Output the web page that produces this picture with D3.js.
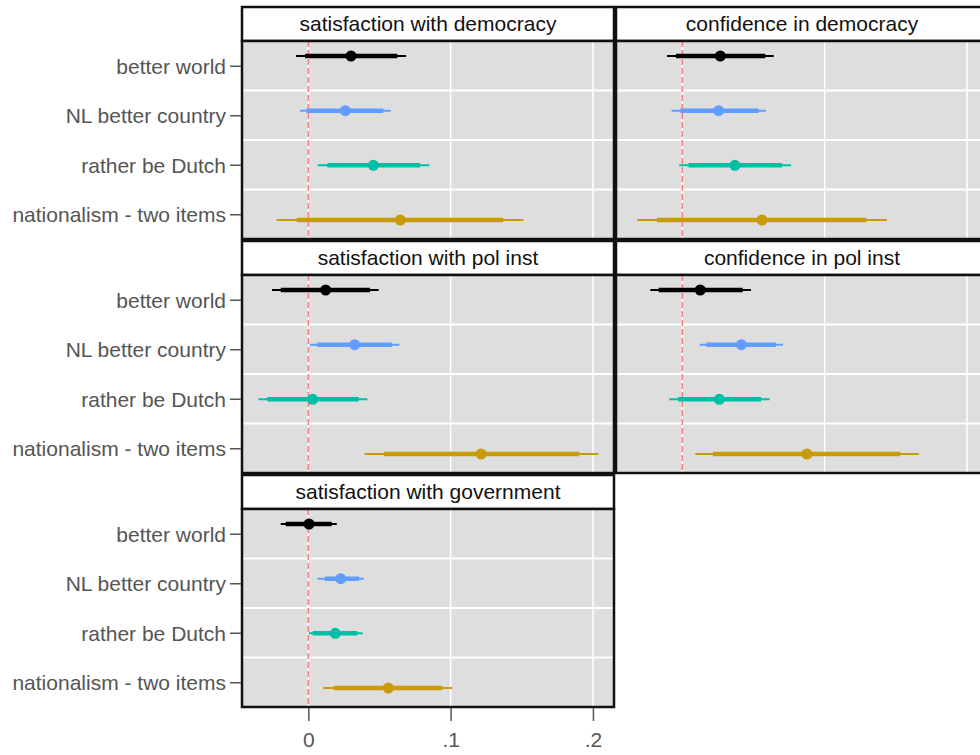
<!DOCTYPE html>
<html>
<head>
<meta charset="utf-8">
<script src="https://cdn.jsdelivr.net/npm/d3@7"></script>
<style>
  body { margin: 0; background: #fff; }
  svg { display: block; font-family: "Liberation Sans", Arial, sans-serif; }
</style>
</head>
<body>
<div id="chart"></div>
<script>
// categories (y axis) and facet titles
const categories = ["better world", "NL better country", "rather be Dutch", "nationalism - two items"];
const panelTitles = ["satisfaction with democracy", "confidence in democracy",
                     "satisfaction with pol inst", "confidence in pol inst",
                     "satisfaction with government"];
const seriesColors = ["#000000", "#619CFF", "#00BFA6", "#C99A0A"];

// one row per panel, one value per category
const pointEst = [
  [0.030, 0.026, 0.0457, 0.0647],
  [0.0267, 0.0255, 0.037, 0.056],
  [0.0122, 0.0326, 0.0031, 0.1214],
  [0.0126, 0.0415, 0.026, 0.0876],
  [0.0005, 0.0228, 0.019, 0.0562]
];
const outerLo = [
  [-0.0086, -0.0058, 0.0066, -0.0222],
  [-0.0108, -0.0075, -0.0021, -0.0318],
  [-0.0255, 0.0012, -0.0351, 0.0396],
  [-0.0225, 0.0122, -0.0091, 0.0091],
  [-0.0194, 0.0066, 0.0003, 0.0105]
];
const innerLo = [
  [-0.0023, -0.0012, 0.0134, -0.0082],
  [-0.0044, -0.0014, 0.0044, -0.0178],
  [-0.0194, 0.0063, -0.0288, 0.0532],
  [-0.0166, 0.0169, -0.003, 0.0216],
  [-0.0159, 0.0117, 0.0031, 0.018]
];
const innerHi = [
  [0.0625, 0.0527, 0.0785, 0.137],
  [0.0583, 0.0536, 0.070, 0.1293],
  [0.0434, 0.0586, 0.0354, 0.1904],
  [0.0424, 0.0658, 0.0553, 0.1532],
  [0.0164, 0.0356, 0.0344, 0.094]
];
const outerHi = [
  [0.0687, 0.0579, 0.085, 0.151],
  [0.0642, 0.0588, 0.0764, 0.1438],
  [0.0495, 0.064, 0.0415, 0.2038],
  [0.0483, 0.0708, 0.0614, 0.1661],
  [0.020, 0.0389, 0.0382, 0.1012]
];
const xTicks = [0, 0.1, 0.2];
const xTickLabels = ["0", ".1", ".2"];

const W = 980, H = 755;
const colX0 = 242, colStep = 374, panelW = 372;
const rowY0 = 7, rowStep = 234, stripH = 34, bodyH = 198;

const svg = d3.select("#chart").append("svg")
  .attr("width", W).attr("height", H);

const x = d3.scaleLinear().domain([-0.0466, 0.2148]).range([0, panelW]);
const yBand = d3.scaleBand().domain(categories).range([0, bodyH]);
const yDot = d3.scalePoint().domain(categories).range([15, 179]);

panelTitles.forEach((title, p) => {
  const col = p % 2, row = Math.floor(p / 2);
  const px = colX0 + col * colStep;
  const py = rowY0 + row * rowStep;
  const g = svg.append("g").attr("transform", "translate(" + px + "," + py + ")");

  // strip
  g.append("rect")
    .attr("x", 0).attr("y", 0).attr("width", panelW).attr("height", stripH)
    .attr("fill", "#fff").attr("stroke", "#111").attr("stroke-width", 2.5);
  g.append("text")
    .attr("x", panelW / 2).attr("y", stripH / 2 + 1)
    .attr("text-anchor", "middle").attr("dominant-baseline", "middle")
    .attr("font-size", 21).attr("fill", "#111")
    .text(title);

  const body = g.append("g").attr("transform", "translate(0," + stripH + ")");
  body.append("rect")
    .attr("width", panelW).attr("height", bodyH).attr("fill", "#dedede");

  // horizontal grid between categories
  body.selectAll(".hgrid").data(categories.slice(1)).join("line")
    .attr("x1", 0).attr("x2", panelW)
    .attr("y1", d => yBand(d)).attr("y2", d => yBand(d))
    .attr("stroke", "#fff").attr("stroke-width", 2);
  // vertical grid
  body.selectAll(".vgrid").data(xTicks).join("line")
    .attr("x1", d => x(d)).attr("x2", d => x(d))
    .attr("y1", 0).attr("y2", bodyH)
    .attr("stroke", "#fff").attr("stroke-width", 1.5);
  // zero reference
  body.append("line")
    .attr("x1", x(0)).attr("x2", x(0)).attr("y1", 0).attr("y2", bodyH)
    .attr("stroke", "#F07C7C").attr("stroke-width", 1.5)
    .attr("stroke-dasharray", "6,3");

  categories.forEach((c, i) => {
    const yy = yDot(c);
    body.append("line")
      .attr("x1", x(outerLo[p][i])).attr("x2", x(outerHi[p][i]))
      .attr("y1", yy).attr("y2", yy)
      .attr("stroke", seriesColors[i]).attr("stroke-width", 2);
    body.append("line")
      .attr("x1", x(innerLo[p][i])).attr("x2", x(innerHi[p][i]))
      .attr("y1", yy).attr("y2", yy)
      .attr("stroke", seriesColors[i]).attr("stroke-width", 4.5);
    body.append("circle")
      .attr("cx", x(pointEst[p][i])).attr("cy", yy).attr("r", 5.5)
      .attr("fill", seriesColors[i]);
  });

  body.append("rect")
    .attr("width", panelW).attr("height", bodyH)
    .attr("fill", "none").attr("stroke", "#111").attr("stroke-width", 2.5);

  // y axis on left column
  if (col === 0) {
    const ya = body.append("g")
      .call(d3.axisLeft(d3.scalePoint().domain(categories).range([yBand.bandwidth() / 2, bodyH - yBand.bandwidth() / 2]))
        .tickSize(11).tickPadding(5));
    ya.select(".domain").remove();
    ya.selectAll(".tick line").attr("stroke", "#555").attr("stroke-width", 1.5).attr("transform", "translate(-1,0)");
    ya.selectAll(".tick text").attr("font-size", 21).attr("fill", "#555")
      .attr("font-family", "Liberation Sans, Arial, sans-serif").attr("dy", "0.36em");
  }
  // x axis only under bottom panel
  if (p === panelTitles.length - 1) {
    const xa = body.append("g").attr("transform", "translate(0," + bodyH + ")")
      .call(d3.axisBottom(x).tickValues(xTicks).tickFormat((d, k) => xTickLabels[k])
        .tickSize(13).tickPadding(12));
    xa.select(".domain").remove();
    xa.selectAll(".tick line").attr("stroke", "#555").attr("stroke-width", 1.5).attr("transform", "translate(0,1)");
    xa.selectAll(".tick text").attr("font-size", 21).attr("fill", "#555")
      .attr("font-family", "Liberation Sans, Arial, sans-serif");
  }
});
</script>
</body>
</html>
